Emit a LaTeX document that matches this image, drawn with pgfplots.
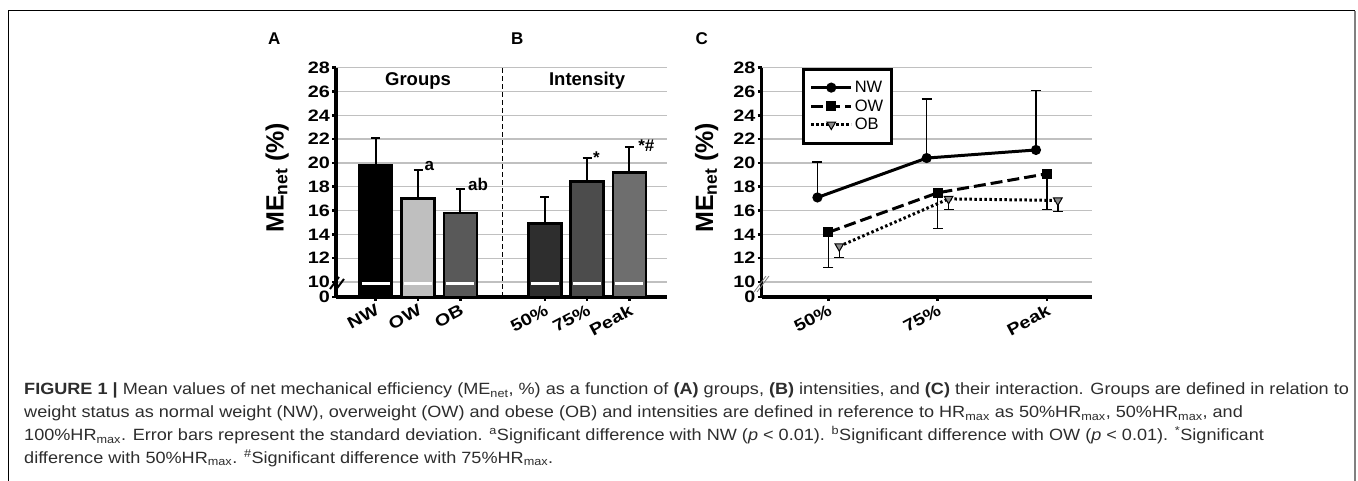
\documentclass[border=0pt]{standalone}
\usepackage{pgfplots}
\pgfplotsset{compat=1.18}
\usepackage{fontspec}
\setmainfont{Liberation Sans}
\newfontfamily\tickfont[FakeStretch=1.2]{Liberation Sans}
\newfontfamily\capfont[FakeStretch=1.11]{Liberation Sans}
\definecolor{gridgray}{RGB}{192,192,192}
\definecolor{capgray}{RGB}{45,45,45}
\definecolor{cOW}{RGB}{191,191,191}
\definecolor{cOB}{RGB}{89,89,89}
\definecolor{c50}{RGB}{46,46,46}
\definecolor{c75}{RGB}{76,76,76}
\definecolor{cPk}{RGB}{110,110,110}
\definecolor{tri}{RGB}{140,140,140}
\pgfplotsset{
  panel/.style={
    scale only axis, height=229.3pt, ymin=8.74, ymax=28,
    axis lines*=left,
    axis line style={line width=3.5pt},
    ytick={8.74,10,12,14,16,18,20,22,24,26,28},
    yticklabels={0,10,12,14,16,18,20,22,24,26,28},
    ymajorgrids, grid style={gridgray, line width=1.3pt},
    tick align=outside, major tick length=4pt,
    tick style={line width=2.5pt, black},
    /pgf/number format/assume math mode=true,
    yticklabel style={font=\fontsize{16.5}{16.5}\selectfont\tickfont\bfseries, inner sep=2pt},
    xticklabel style={font=\fontsize{16.5}{16.5}\selectfont\tickfont\bfseries, rotate=28, anchor=north east, inner sep=2pt},
    ylabel={\bfseries ME\textsubscript{net} (\%)},
  },
  barerr/.style={ybar, bar width=0.78, bar shift=0pt, draw=black, line width=2.5pt,
    error bars/y dir=plus, error bars/y explicit,
    error bars/error bar style={line width=2pt, black},
    error bars/error mark options={rotate=90, mark size=4.5pt, line width=2pt, black}},
  lineerr/.style={error bars/y explicit,
    error bars/error bar style={solid, line width=1.5pt, black},
    error bars/error mark options={solid, rotate=90, mark size=5pt, line width=1.5pt, black}},
}
\begin{document}
\begin{tikzpicture}[x=1pt,y=1pt]
\useasboundingbox (0,0) rectangle (1358,481);
% frame
\draw[black, line width=1pt] (8,0) -- (8,470) -- (1355,470);
\draw[gray, line width=2pt] (1355,470) -- (1355,0);
% panel letters
\node[font=\fontsize{17}{17}\selectfont\bfseries] at (274.3,442) {A};
\node[font=\fontsize{17}{17}\selectfont\bfseries] at (517.3,442) {B};
\node[font=\fontsize{17}{17}\selectfont\bfseries] at (701.7,442) {C};

% ---------- Panels A and B ----------
\begin{axis}[panel, at={(336pt,184pt)}, anchor=south west, width=331pt,
  xmin=-0.94, xmax=6.89, xtick={0,1,2,4,5,6},
  xticklabels={NW,OW,OB,50\%,75\%,Peak},
  every axis y label/.style={at={(rel axis cs:-0.178,0.52)}, rotate=90, anchor=center, font=\fontsize{25}{25}\selectfont}]
\addplot[barerr, fill=black] coordinates {(0,19.8) +- (0,2.3)};
\addplot[barerr, fill=cOW] coordinates {(1,17.0) +- (0,2.4)};
\addplot[barerr, fill=cOB] coordinates {(2,15.8) +- (0,2.05)};
\addplot[barerr, fill=c50] coordinates {(4,14.9) +- (0,2.2)};
\addplot[barerr, fill=c75] coordinates {(5,18.45) +- (0,1.95)};
\addplot[barerr, fill=cPk] coordinates {(6,19.2) +- (0,2.15)};
\foreach \xx in {0,1,2,4,5,6}{
  \edef\tmp{\noexpand\draw[white, line width=3pt] (axis cs:\xx-0.33,9.87) -- (axis cs:\xx+0.33,9.87);}\tmp
}
\draw[black, line width=1.5pt, dash pattern=on 5pt off 3pt] (axis cs:3,8.74) -- (axis cs:3,28);
\node[font=\fontsize{18.5}{18.5}\selectfont\bfseries] at (axis cs:1,26.9) {Groups};
\node[font=\fontsize{18.5}{18.5}\selectfont\bfseries] at (axis cs:5,26.9) {Intensity};
\node[font=\fontsize{17}{17}\selectfont\bfseries] at (axis cs:1.27,19.76) {a};
\node[font=\fontsize{17}{17}\selectfont\bfseries] at (axis cs:2.42,18.2) {ab};
\node[font=\fontsize{17}{17}\selectfont\bfseries] at (axis cs:5.22,20.45) {*};
\node[font=\fontsize{17}{17}\selectfont\bfseries] at (axis cs:6.4,21.45) {*\#};
\end{axis}

% ---------- Panel C ----------
\begin{axis}[panel, at={(761.7pt,184pt)}, anchor=south west, width=330pt,
  xmin=-0.61, xmax=2.41, xtick={0,1,2},
  xticklabels={50\%,75\%,Peak},
  every axis y label/.style={at={(rel axis cs:-0.167,0.52)}, rotate=90, anchor=center, font=\fontsize{25}{25}\selectfont},
  legend style={at={(rel axis cs:0.123,1)}, anchor=north west, draw=black,
    line width=3pt, font=\fontsize{16.5}{16.5}\selectfont, inner xsep=6pt, inner ysep=10pt, row sep=1.5pt},
  legend cell align=left,
  legend image code/.code={\draw[mark repeat=2, mark phase=2] plot coordinates {(0pt,0pt) (20pt,0pt) (40pt,0pt)};}]
\addplot[black, line width=3pt, mark=*, mark size=3.5pt, mark options={solid},
  lineerr, error bars/y dir=plus]
  coordinates {(-0.1,17.1) +- (0,2.97) (0.9,20.41) +- (0,4.98) (1.9,21.09) +- (0,5.0)};
\addlegendentry{NW}
\addplot[black, line width=3pt, dash pattern=on 12pt off 5pt, mark=square*, mark size=3.5pt, mark options={solid},
  lineerr, error bars/y dir=minus]
  coordinates {(0,14.17) +- (0,2.95) (1,17.49) +- (0,2.98) (2,19.09) +- (0,2.98)};
\addlegendentry{OW}
\addplot[black, line width=3pt, dash pattern=on 2.5pt off 2.5pt, mark=triangle*, mark size=5pt,
  mark options={solid, rotate=180, fill=tri, draw=black, line width=1pt},
  lineerr, error bars/y dir=minus]
  coordinates {(0.1,13.0) +- (0,0.95) (1.1,16.98) +- (0,0.88) (2.1,16.85) +- (0,0.94)};
\addlegendentry{OB}
\end{axis}

% axis break marks
\draw[black, line width=2pt] (330,192) -- (339,204);
\draw[black, line width=2pt] (335,190) -- (344,202);
\draw[gray, line width=0.8pt] (754,189) -- (766,205);
\draw[gray, line width=0.8pt] (757,189) -- (769,205);

% caption
\begin{scope}[every node/.style={anchor=base west, inner sep=0pt, text=capgray, font=\fontsize{16.3}{16.3}\selectfont\capfont}]
\node at (24,86) {\textbf{FIGURE 1 |} Mean values of net mechanical efficiency (ME\textsubscript{net}, \%) as a function of \textbf{(A)} groups, \textbf{(B)} intensities, and \textbf{(C)} their interaction. Groups are defined in relation to};
\node at (24,63.3) {weight status as normal weight (NW), overweight (OW) and obese (OB) and intensities are defined in reference to HR\textsubscript{max} as 50\%HR\textsubscript{max}, 50\%HR\textsubscript{max}, and};
\node at (24,40.3) {100\%HR\textsubscript{max}. Error bars represent the standard deviation. \textsuperscript{a}Significant difference with NW (\textit{p} < 0.01). \textsuperscript{b}Significant difference with OW (\textit{p} < 0.01). \textsuperscript{*}Significant};
\node at (24,17.7) {difference with 50\%HR\textsubscript{max}. \textsuperscript{\#}Significant difference with 75\%HR\textsubscript{max}.};
\end{scope}
\end{tikzpicture}
\end{document}
